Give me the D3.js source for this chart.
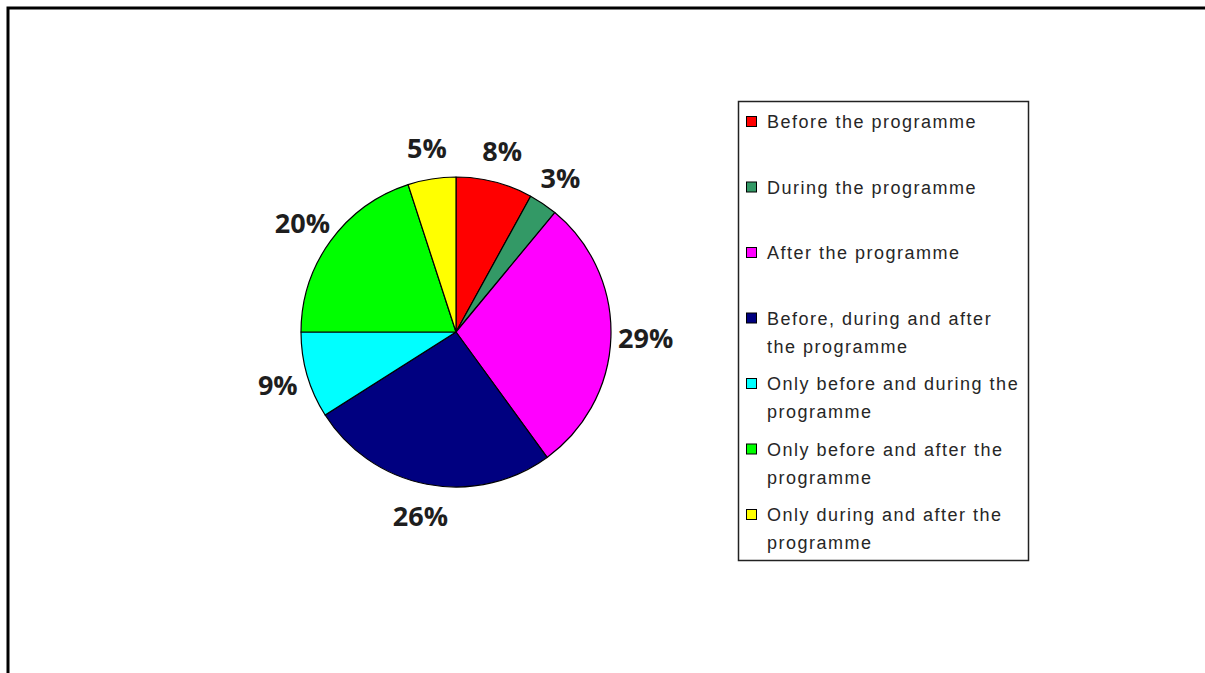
<!DOCTYPE html>
<html>
<head>
<meta charset="utf-8">
<script src="https://cdn.jsdelivr.net/npm/d3@7"></script>
<style>
  html, body { margin: 0; padding: 0; background: #fff; }
  svg { display: block; }
</style>
</head>
<body>
<svg id="chart" width="1205" height="673"></svg>
<script>
// Share of respondents by timing of participation
const categories = [
  "Before the programme",
  "During the programme",
  "After the programme",
  "Before, during and after the programme",
  "Only before and during the programme",
  "Only before and after the programme",
  "Only during and after the programme"
];
const values = [8, 3, 29, 26, 9, 20, 5];
const colors = ["#FF0000", "#339966", "#FF00FF", "#000080", "#00FFFF", "#00FF00", "#FFFF00"];
// Legend text split into its drawn lines
const legendLines = [
  ["Before the programme"],
  ["During the programme"],
  ["After the programme"],
  ["Before, during and after", "the programme"],
  ["Only before and during the", "programme"],
  ["Only before and after the", "programme"],
  ["Only during and after the", "programme"]
];

const svg = d3.select("#chart");

// Outer frame (top and left edges visible)
svg.append("path")
  .attr("d", "M8,673 L8,8 L1205,8")
  .attr("fill", "none")
  .attr("stroke", "#000")
  .attr("stroke-width", 3);

// Pie
const cx = 456, cy = 332, radius = 155;
const data = values.map((v, i) => ({ name: categories[i], value: v, color: colors[i] }));
const pie = d3.pie().value(d => d.value).sort(null).startAngle(0).endAngle(2 * Math.PI);
const arcs = pie(data);
const arc = d3.arc().innerRadius(0).outerRadius(radius);

// Percentage labels sit just outside the rim; the box is pushed outward
// by half its size along the slice direction
const labelR = 176;
function labelPos(d) {
  const a = (d.startAngle + d.endAngle) / 2;
  const sx = Math.sin(a), sy = -Math.cos(a);
  const w = 18 + 14 * String(d.data.value).length, h = 22;
  return [labelR * sx + sx * w / 2 * 0.6, labelR * sy + sy * h / 2];
}

const g = svg.append("g").attr("transform", `translate(${cx},${cy})`);
g.selectAll("path.slice")
  .data(arcs)
  .join("path")
  .attr("class", "slice")
  .attr("d", arc)
  .attr("fill", d => d.data.color)
  .attr("stroke", "#000")
  .attr("stroke-width", 1.2)
  .attr("stroke-linejoin", "round");

g.selectAll("text.pct")
  .data(arcs)
  .join("text")
  .attr("class", "pct")
  .attr("transform", d => `translate(${labelPos(d)})`)
  .attr("text-anchor", "middle")
  .attr("dominant-baseline", "central")
  .attr("font-family", "'Open Sans', sans-serif")
  .attr("font-weight", 700)
  .attr("font-size", 27)
  .attr("fill", "#1e1e1e")
  .text(d => d.data.value + "%");

// Legend
const legend = svg.append("g");
legend.append("rect")
  .attr("x", 738.5).attr("y", 101.5)
  .attr("width", 290).attr("height", 459)
  .attr("fill", "#fff")
  .attr("stroke", "#222")
  .attr("stroke-width", 1.5);

const itemY = d3.scaleLinear().domain([0, 6]).range([122, 515]);
const items = legend.selectAll("g.item")
  .data(data)
  .join("g")
  .attr("class", "item")
  .attr("transform", (d, i) => `translate(0,${itemY(i)})`);

items.append("rect")
  .attr("x", 746.5).attr("y", -5.5)
  .attr("width", 10).attr("height", 10)
  .attr("fill", d => d.color)
  .attr("stroke", "#000")
  .attr("stroke-width", 1);

items.append("text")
  .attr("x", 767)
  .attr("font-family", "'Liberation Sans', Arial, sans-serif")
  .attr("font-size", 18)
  .attr("letter-spacing", 1.5)
  .attr("fill", "#262626")
  .selectAll("tspan")
  .data((d, i) => legendLines[i])
  .join("tspan")
  .attr("x", 767)
  .attr("y", (d, j) => j * 28)
  .attr("dominant-baseline", "central")
  .text(d => d);
</script>
</body>
</html>
